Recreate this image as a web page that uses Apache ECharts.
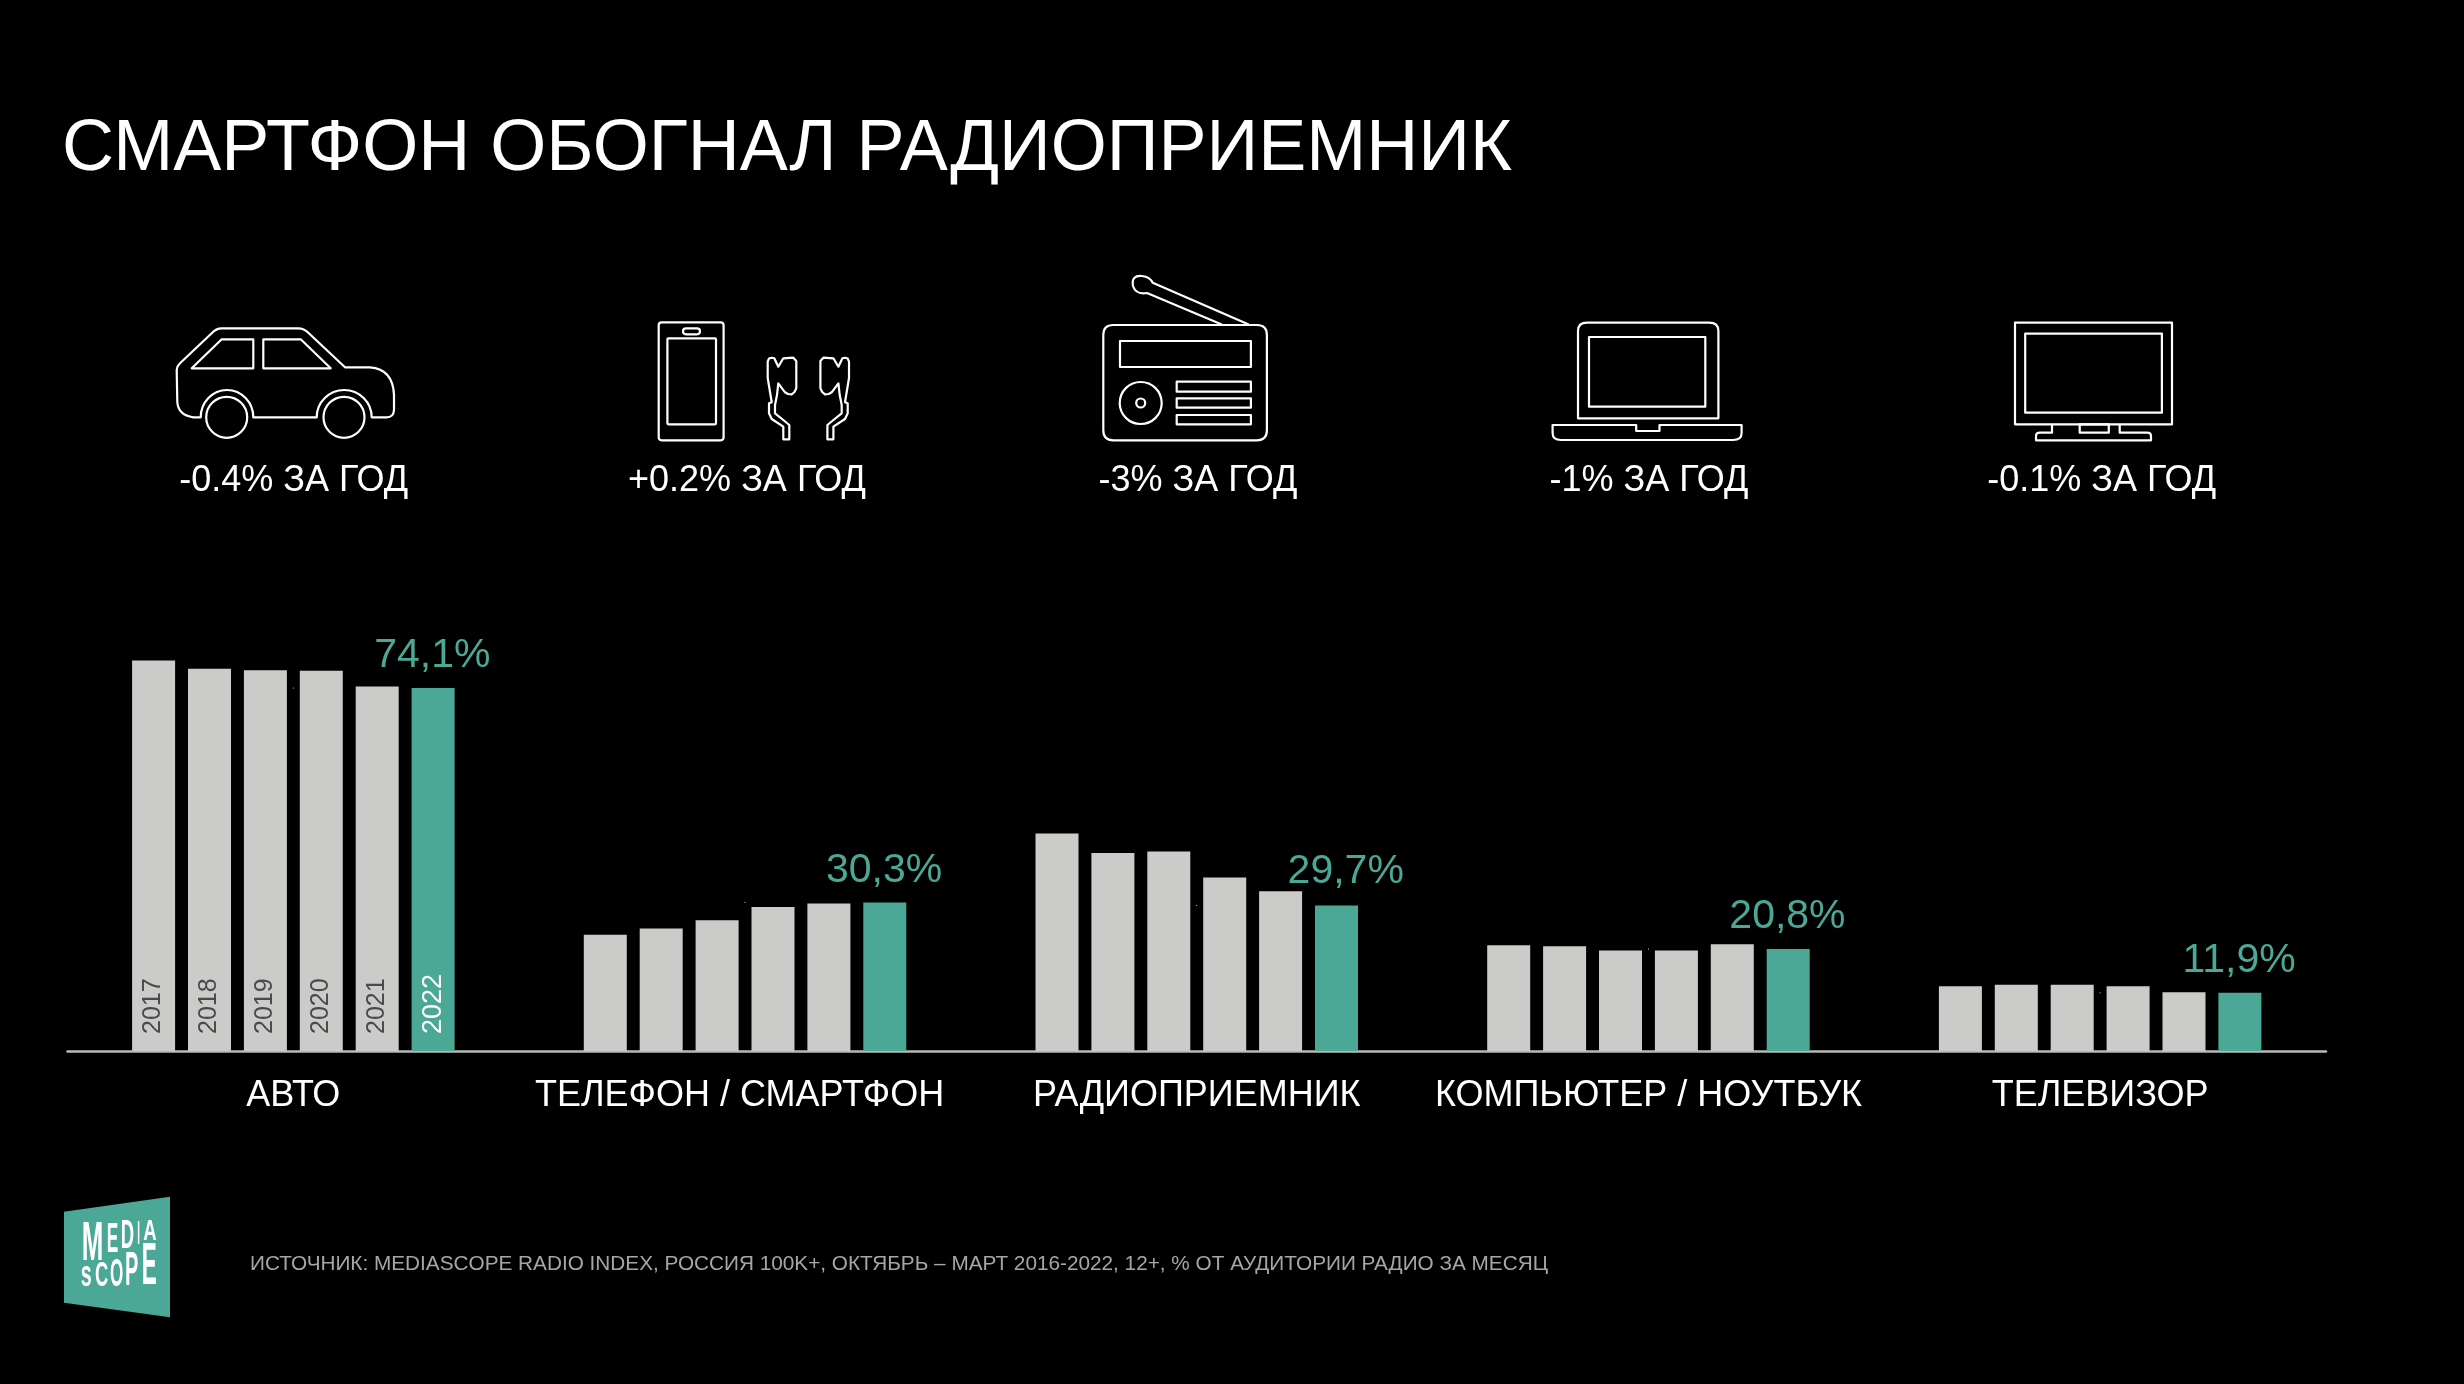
<!DOCTYPE html>
<html>
<head>
<meta charset="utf-8">
<style>
  html, body { margin: 0; padding: 0; background: #000; }
  #chart { width: 2464px; height: 1384px; }
</style>
<script src="https://cdn.jsdelivr.net/npm/echarts@6/dist/echarts.min.js"></script>
</head>
<body>
<div id="chart"></div>
<script>
  const categories = ['АВТО', 'ТЕЛЕФОН / СМАРТФОН', 'РАДИОПРИЕМНИК', 'КОМПЬЮТЕР / НОУТБУК', 'ТЕЛЕВИЗОР'];
  const years = ['2017', '2018', '2019', '2020', '2021', '2022'];
  const values2017 = [79.7, 23.7, 44.4, 21.6, 13.2];
  const values2018 = [78.0, 25.0, 40.4, 21.4, 13.5];
  const values2019 = [77.7, 26.7, 40.7, 20.5, 13.5];
  const values2020 = [77.6, 29.4, 35.4, 20.5, 13.2];
  const values2021 = [74.4, 30.1, 32.6, 21.8, 12.0];
  const values2022 = [74.1, 30.3, 29.7, 20.8, 11.9];
  const yearChanges = ['-0.4% ЗА ГОД', '+0.2% ЗА ГОД', '-3% ЗА ГОД', '-1% ЗА ГОД', '-0.1% ЗА ГОД'];
  const titleText = 'СМАРТФОН ОБОГНАЛ РАДИОПРИЕМНИК';
  const sourceText = 'ИСТОЧНИК: MEDIASCOPE RADIO INDEX, РОССИЯ 100K+, ОКТЯБРЬ – МАРТ 2016-2022, 12+, % ОТ АУДИТОРИИ РАДИО ЗА МЕСЯЦ';

  const FONT = '"Liberation Sans", Arial, sans-serif';
  const GRAY = '#cbcbc9';
  const TEAL = '#4ca896';

  const allValues = [values2017, values2018, values2019, values2020, values2021, values2022];

  // icons are plain outlines, page coordinates
  function roundBox(x0, y0, x1, y1, r) {
    return `M${x0 + r} ${y0}L${x1 - r} ${y0}Q${x1} ${y0} ${x1} ${y0 + r}L${x1} ${y1 - r}Q${x1} ${y1} ${x1 - r} ${y1}L${x0 + r} ${y1}Q${x0} ${y1} ${x0} ${y1 - r}L${x0} ${y0 + r}Q${x0} ${y0} ${x0 + r} ${y0}Z`;
  }
  function ring(cx, cy, r) {
    return `M${cx - r} ${cy}A${r} ${r} 0 1 1 ${cx + r} ${cy}A${r} ${r} 0 1 1 ${cx - r} ${cy}Z`;
  }
  function earbud(m) {
    const pts = [[767.7, 361.7], [769, 358.5], [771.7, 357.7], [774.3, 358.3], [778.3, 366.7], [783.3, 358.3], [793.3, 357.7], [796.3, 361],
      [796.3, 388.3], [794.5, 392], [791.7, 394.3], [788, 394], [785, 392.3], [778.3, 383.3], [777, 395], [775, 405], [775, 413.3], [783.3, 420],
      [789.3, 425], [789.3, 439.3], [783.3, 439.3], [783.3, 426.7], [771.7, 419], [769, 413.3], [769, 403.3], [771.7, 402.3], [767.7, 378]];
    return 'M' + pts.map(p => `${m ? 1616.7 - p[0] : p[0]} ${p[1]}`).join('L') + 'Z';
  }

  const carPaths = [
    'M200.7 417.3L193.3 417.3Q178 415 177.3 401.7L176.7 370Q177 366 180 363.3L211.7 333.3Q216 328.3 221.7 328.3L298.3 328.3Q304 328.3 308.3 332.7L345 367.3L370 367.3Q393 369 394 395L394 410Q393.5 417.3 386.7 417.3L371.7 417.3A27.5 27.3 0 0 0 316.7 417.3L253.3 417.3A26.3 27.3 0 0 0 200.7 417.3Z',
    ring(226.7, 417.3, 20.5), ring(344, 417.3, 20.5),
    'M191.7 368.3L221.7 339.3L253.3 339.3L253.3 368.3Z', 'M263.3 339.3L300.7 339.3L330.7 368.3L263.3 368.3Z'
  ];
  const otherPaths = [
    // phone + earbuds
    roundBox(658.7, 321.3, 723.6, 439.3, 3), roundBox(667.4, 337.3, 716, 423.3, 1), roundBox(683, 327.3, 700, 333.3, 3),
    // radio
    'M1221.8 323.5L1147 292Q1136 294 1133 285Q1131 274 1142 275Q1150 276 1152.7 281.7L1248.7 323.5',
    roundBox(1103.3, 324, 1266.9, 439.3, 10), roundBox(1120, 340, 1250.9, 366, 0),
    ring(1140.7, 402, 21), ring(1140.7, 402, 4.5),
    roundBox(1176.7, 380.7, 1250.9, 390.7, 0), roundBox(1176.7, 397.3, 1250.9, 406.7, 0), roundBox(1176.7, 414, 1250.9, 423.3, 0),
    // laptop
    'M1578 417.3L1578 330Q1578 321.7 1587 321.7L1709 321.7Q1718.4 321.7 1718.4 330L1718.4 417.3Z',
    roundBox(1589, 336, 1705.3, 405.7, 0),
    'M1552.6 424L1636.2 424L1636.2 430L1659.5 430L1659.5 424L1741.6 424L1741.6 432Q1741.6 439 1733 439L1561 439Q1552.6 439 1552.6 432Z',
    // tv
    roundBox(2015, 321.7, 2172, 423.3, 0), roundBox(2025.2, 332.7, 2161.9, 411.7, 0),
    roundBox(2079.7, 423.3, 2108.8, 431.7, 0),
    'M2052 423.3L2052 431.7L2040 431.7Q2036 431.7 2036 435L2036 439.3L2151 439.3L2151 435Q2151 431.7 2147 431.7L2119.7 431.7L2119.7 423.3'
  ];
  // the graphic component has no plain path type, so each outline gets a shape of its own
  function outlineShape(d, key, dy) {
    const name = 'iconOutline' + key;
    echarts.graphic.registerShape(name, echarts.graphic.extendPath(d));
    return { type: name, y: dy, style: { fill: null, stroke: '#fff', lineWidth: 2.2, lineJoin: 'round' }, silent: true };
  }
  const icons = [
    ...carPaths.map((d, i) => outlineShape(d, 'car' + i, 0)),
    outlineShape(earbud(false), 'budL', 0),
    outlineShape(earbud(true), 'budR', 0),
    ...otherPaths.map((d, i) => outlineShape(d, i, 1))
  ];

  // logo letters, squeezed into their boxes
  const measure = document.createElement('canvas').getContext('2d');
  function logoLetter(ch, x0, x1, y0, y1, capRatio) {
    const size = (y1 - y0) / (capRatio || 0.716);
    const font = `bold ${size}px ${FONT}`;
    measure.font = font;
    return {
      type: 'text', x: (x0 + x1) / 2, y: (y0 + y1) / 2, scaleX: (x1 - x0) / measure.measureText(ch).width, silent: true,
      style: { text: ch, fill: '#fff', font: font, textAlign: 'center', textVerticalAlign: 'middle' }
    };
  }
  const logo = [
    { type: 'polygon', shape: { points: [[64, 1211.7], [170, 1196.7], [170, 1317.3], [64, 1302.7]] }, style: { fill: TEAL }, silent: true },
    logoLetter('M', 81.7, 103.3, 1225, 1265), logoLetter('E', 106.7, 118.3, 1225, 1255), logoLetter('D', 120.7, 134, 1223, 1251.7),
    logoLetter('I', 137.3, 140, 1223, 1246.7), logoLetter('A', 143.3, 156.7, 1221.7, 1242.7),
    logoLetter('s', 80.7, 91.7, 1266.5, 1285.5, 0.519), logoLetter('C', 95, 108.3, 1264, 1289), logoLetter('O', 110, 123.3, 1260.7, 1289),
    logoLetter('P', 125, 138.3, 1255, 1289), logoLetter('E', 141.7, 156.7, 1246.7, 1289)
  ];

  const changeCenters = [293.6, 747, 1198, 1649, 2101.7];
  const changeLabels = yearChanges.map((t, i) => ({
    type: 'text', x: changeCenters[i], y: 481, silent: true,
    style: { text: t, fill: '#fff', font: `36px ${FONT}`, textAlign: 'center', textVerticalAlign: 'middle' }
  }));

  const barSeries = years.map((y, s) => ({
    name: y,
    type: 'bar',
    barWidth: 43,
    barGap: '30%',
    itemStyle: { color: s === 5 ? TEAL : GRAY },
    data: allValues[s].map((v, i) => i === 0 ? {
      value: v,
      label: {
        show: true, formatter: y, rotate: 90, position: 'insideBottom', distance: 17, align: 'left', verticalAlign: 'middle',
        color: s === 5 ? '#fff' : '#4a4a4a', fontSize: s === 5 ? 27 : 25, fontFamily: FONT
      }
    } : v)
  }));

  // the teal percentages sit above the 2022 bars, in their own invisible series
  const valueLabels = {
    type: 'line',
    symbolSize: 1,
    itemStyle: { color: 'transparent' },
    lineStyle: { width: 0 },
    z: 5,
    data: values2022.map((v, i) => ({
      value: v,
      label: {
        show: true, position: 'top', distance: 10, offset: i === 2 ? [149, -2] : [139, 0],
        color: TEAL, fontSize: 41, fontFamily: FONT,
        formatter: p => String(p.value.toFixed(1)).replace('.', ',') + '%'
      }
    }))
  };

  const chart = echarts.init(document.getElementById('chart'));
  chart.setOption({
    animation: false,
    backgroundColor: '#000',
    title: {
      text: titleText, left: 57, top: 109,
      textStyle: { color: '#fff', fontSize: 72, fontWeight: 'normal', fontFamily: FONT }
    },
    grid: { left: 67.5, right: 138, top: 561, bottom: 333 },
    xAxis: {
      type: 'category',
      data: categories,
      axisLine: { lineStyle: { color: '#b9b9b9', width: 2.5 } },
      axisTick: { show: false },
      axisLabel: {
        interval: 0, color: '#fff', fontSize: 36, fontFamily: FONT, margin: 27,
        // the phone label sits a little left of its group
        formatter: v => v === categories[1] ? `{shift|${v}}` : v,
        rich: { shift: { color: '#fff', fontSize: 36, fontFamily: FONT, padding: [0, 11, 0, 0] } }
      }
    },
    yAxis: { type: 'value', min: 0, max: 100, show: false },
    series: [...barSeries, valueLabels],
    graphic: [
      ...icons,
      ...changeLabels,
      ...logo,
      {
        type: 'text', x: 250, y: 1264, silent: true,
        style: { text: sourceText, fill: '#a6a6a6', font: `20.75px ${FONT}`, textAlign: 'left', textVerticalAlign: 'middle' }
      }
    ]
  });
</script>
</body>
</html>
